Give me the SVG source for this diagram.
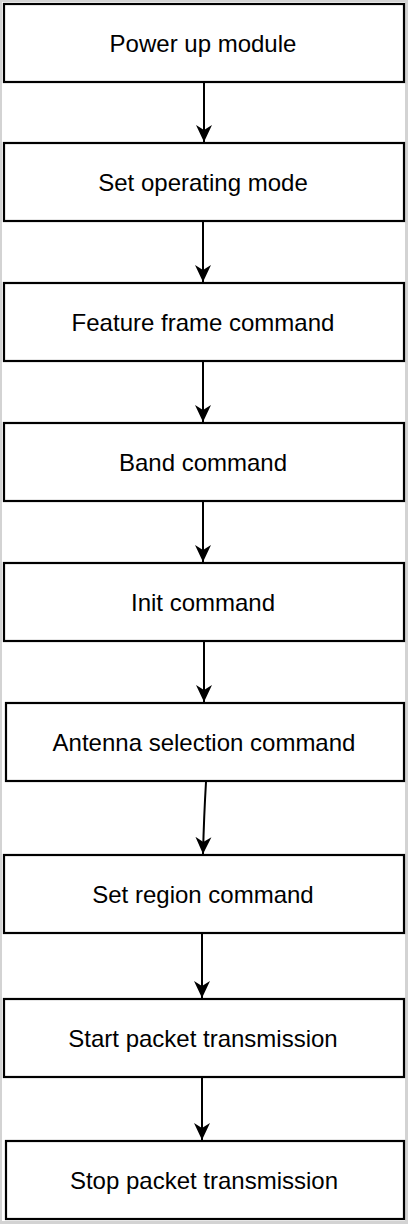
<svg xmlns="http://www.w3.org/2000/svg" width="408" height="1224" viewBox="0 0 408 1224">
<defs>
<style>
.box{fill:#fff;stroke:#000;stroke-width:2.2}
.lbl{font-family:"Liberation Sans",Arial,sans-serif;font-size:24px;fill:#000;text-anchor:middle;dominant-baseline:central}
.con{fill:none;stroke:#000;stroke-width:2}
</style>
<marker id="arr" viewBox="0 0 18 18" refX="17" refY="9" markerWidth="18" markerHeight="18" markerUnits="userSpaceOnUse" orient="auto">
<path d="M0,1 L17,9 L0,17 L5,9 Z" fill="#000"/>
</marker>
</defs>
<rect x="0" y="0" width="408" height="1224" fill="#d3d3d3"/>
<rect x="2" y="2" width="403" height="1219" fill="#fff"/>
<g id="n1"><rect class="box" x="4" y="4" width="400" height="78"/><text class="lbl" x="203" y="43">Power up module</text></g>
<g id="n2"><rect class="box" x="4" y="143" width="400" height="78"/><text class="lbl" x="203" y="182">Set operating mode</text></g>
<g id="n3"><rect class="box" x="4" y="283" width="400" height="78"/><text class="lbl" x="203" y="322">Feature frame command</text></g>
<g id="n4"><rect class="box" x="4" y="423" width="400" height="78"/><text class="lbl" x="203" y="462">Band command</text></g>
<g id="n5"><rect class="box" x="4" y="563" width="400" height="78"/><text class="lbl" x="203" y="602">Init command</text></g>
<g id="n6"><rect class="box" x="6" y="703" width="398" height="78"/><text class="lbl" x="204" y="742">Antenna selection command</text></g>
<g id="n7"><rect class="box" x="4" y="855" width="400" height="78"/><text class="lbl" x="203" y="894">Set region command</text></g>
<g id="n8"><rect class="box" x="4" y="999" width="400" height="78"/><text class="lbl" x="203" y="1038">Start packet transmission</text></g>
<g id="n9"><rect class="box" x="6" y="1141" width="398" height="78"/><text class="lbl" x="204" y="1180">Stop packet transmission</text></g>
<g id="connectors">
<path class="con" d="M204,82 L204,142" marker-end="url(#arr)"/>
<path class="con" d="M203,222 L203,282" marker-end="url(#arr)"/>
<path class="con" d="M203,362 L203,422" marker-end="url(#arr)"/>
<path class="con" d="M203,502 L203,562" marker-end="url(#arr)"/>
<path class="con" d="M204,642 L204,702" marker-end="url(#arr)"/>
<path class="con" d="M206,782 Q204,815 203,854" marker-end="url(#arr)"/>
<path class="con" d="M202,934 L202,998" marker-end="url(#arr)"/>
<path class="con" d="M202,1078 L202,1140" marker-end="url(#arr)"/>
</g>
</svg>
